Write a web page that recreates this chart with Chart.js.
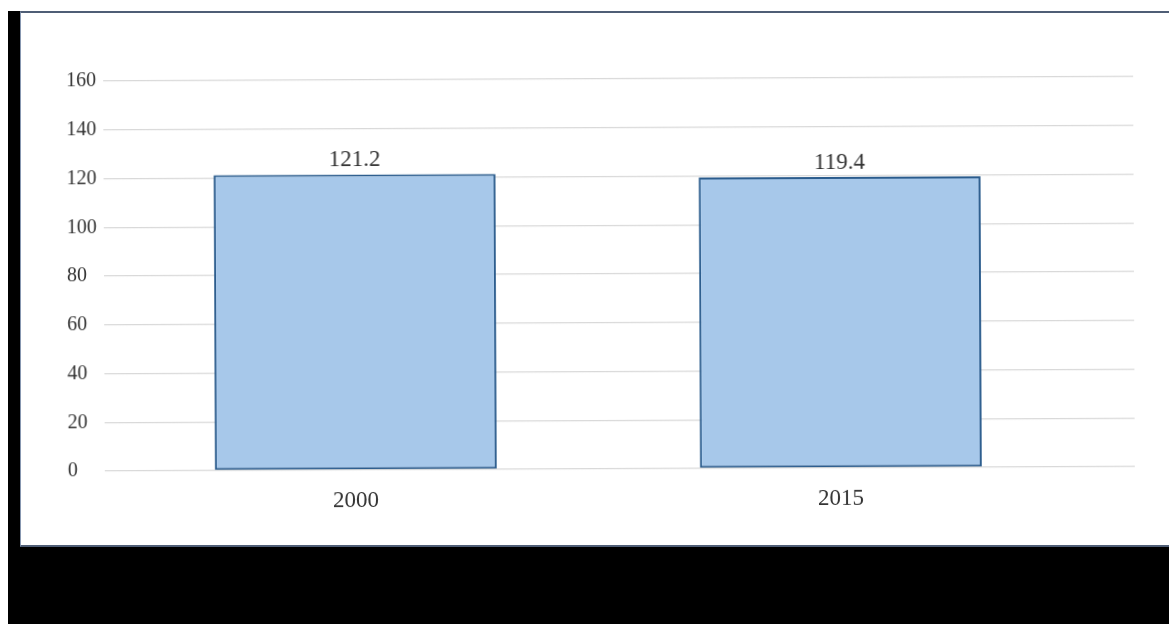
<!DOCTYPE html>
<html lang="en">
<head>
  <meta charset="UTF-8">
  <title>2000 / 2015</title>
  <script src="https://cdn.jsdelivr.net/npm/chart.js"></script>
  <style>
    body { margin: 0; background: #ffffff; width: 1169px; height: 624px; overflow: hidden; position: relative; }
    #bg { position: absolute; left: 8px; top: 11px; right: 0; bottom: 0; background: #000000; }
    #panel { position: absolute; left: 20px; top: 11px; width: 1148px; height: 532px; background: #ffffff;
             border-top: 2px solid #4f5e76; border-bottom: 2px solid #4f5e76; border-left: 1px solid #8797b0; }
    #myChart { position: absolute; left: 0; top: 0; transform: rotate(-0.25deg); }
  </style>
</head>
<body>

<div id="bg"></div>
<div id="panel">
  <canvas id="myChart" width="1148" height="532"></canvas>
</div>

<script>
const categories = ['2000', '2015'];
const values = [121.2, 119.4];
const yTicks = { min: 0, max: 160, step: 20 };

const textColor = '#333333';

// number above each bar
const valueLabels = {
  id: 'valueLabels',
  afterDatasetsDraw(chart) {
    const ctx = chart.ctx;
    const meta = chart.getDatasetMeta(0);
    ctx.save();
    ctx.font = '23px "Liberation Serif"';
    ctx.fillStyle = textColor;
    ctx.textAlign = 'center';
    ctx.textBaseline = 'bottom';
    meta.data.forEach((bar, i) => {
      ctx.fillText(values[i].toFixed(1), bar.x, bar.y - 3);
    });
    ctx.restore();
  }
};

const ctx = document.getElementById('myChart').getContext('2d');
new Chart(ctx, {
  type: 'bar',
  data: {
    datasets: [{
      data: categories.map((c, i) => ({ x: i, y: values[i] })),
      backgroundColor: '#a7c8ea',
      borderColor: '#2b5c8d',
      borderWidth: 2,
      borderSkipped: false,
      categoryPercentage: 1,
      barPercentage: 0.581
    }]
  },
  options: {
    responsive: false,
    animation: false,
    layout: { padding: { left: 46, right: 35, top: 66, bottom: 0 } },
    plugins: { legend: { display: false }, tooltip: { enabled: false } },
    scales: {
      x: {
        type: 'linear',
        offset: false,
        min: -0.5175,
        max: 1.606,
        grid: { display: false },
        border: { display: false },
        afterFit: s => { s.height = 76; },
        ticks: {
          stepSize: 1,
          includeBounds: false,
          autoSkip: false,
          maxRotation: 0,
          padding: 9,
          color: textColor,
          font: { family: 'Liberation Serif', size: 23 },
          callback: v => categories[v] ?? ''
        }
      },
      y: {
        min: yTicks.min,
        max: yTicks.max,
        grid: { color: '#d9d9d9', lineWidth: 1.3, drawTicks: false },
        border: { display: false },
        afterFit: s => { s.width = 37; },
        ticks: {
          stepSize: yTicks.step,
          crossAlign: 'far',
          color: textColor,
          font: { family: 'Liberation Serif', size: 20 }
        }
      }
    }
  },
  plugins: [valueLabels]
});
</script>

</body>
</html>
